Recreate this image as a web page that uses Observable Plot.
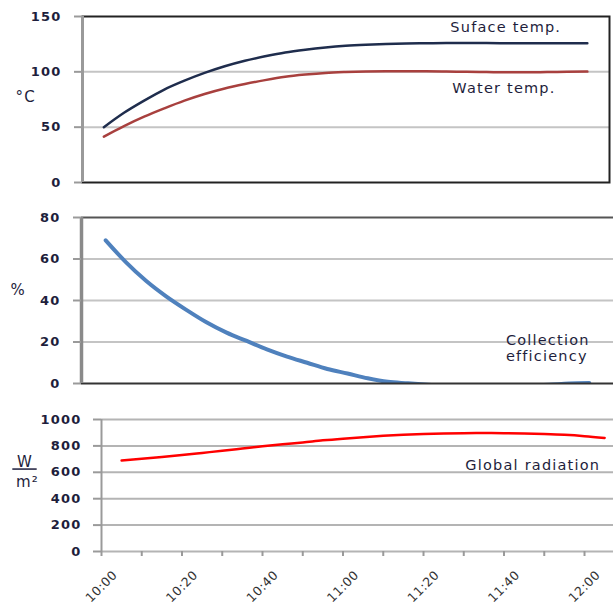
<!DOCTYPE html>
<html><head><meta charset="utf-8">
<script src="https://cdn.jsdelivr.net/npm/d3@7"></script>
<script src="https://cdn.jsdelivr.net/npm/@observablehq/plot@0.6"></script>
<style>
html,body{margin:0;padding:0;background:#fff;overflow:hidden}
#chart svg{display:block;background:#fff}
#chart svg text{letter-spacing:1.2px}
</style></head><body><div id="chart"></div>
<script>
// minutes after 10:00
const minutes      = [5,10,15,20,25,30,35,40,45,50,55,60,65,70,75,80,85,90,95,100,105,110,115,120,125];
const surfaceTemp  = [50,63,74,84,92,99,105,110,114,117.5,120,122,123.5,124.5,125.2,125.6,125.8,126,126,126,125.9,125.8,125.8,125.8,125.8];
const waterTemp    = [41.5,51,59.5,67,74,80,85,89,92.5,95.5,97.5,99,99.8,100.3,100.5,100.5,100.5,100.3,100,99.8,99.6,99.6,99.8,100,100.2];
const efficiency   = [69,58.5,49.5,42,35.5,29.5,24.5,20.5,16.5,13,10,7,4.8,2.5,0.8,0.1,-0.6,-1.2,-1.5,-1.5,-1.3,-1,-0.6,0,0.2];
const radiation    = [689,702,716,731,747,763,780,797,812,826,842,855,866,876,884,890,894,896,897,896,894,890,884,874,860];

const tempTicks = [0,50,100,150];
const effTicks  = [0,20,40,60,80];
const radTicks  = [0,200,400,600,800,1000];
const timeTicks = [0,10,20,30,40,50,60,70,80,90,100,110,120];
const timeLabelMinutes = [0,20,40,60,80,100,120];
const timeLabels = ["10:00","10:20","10:40","11:00","11:20","11:40","12:00"];

const seriesNames = ["Suface temp.","Water temp.","Collection\nefficiency","Global radiation"];
const unitLabels = ["°C", "%", "\u00a0W\u00a0", "m²"];

const FONT = "DejaVu Sans";
const INK = "#1e1e3c";
const baseStyle = {fontFamily: FONT, fontSize: "13px", color: INK, background: "#fff"};
const tickTextOpts = {fill: INK, fontWeight: "bold", fontSize: 13, label: null, tickFormat: d => String(d)};
const annot = {fill: INK, fontSize: 14.5, textAnchor: "start", lineAnchor: "middle"};
const unitOpts = {frameAnchor: "top-left", text: d => d, fill: INK, fontSize: 15, lineAnchor: "middle"};

const chart = document.getElementById("chart");

// ---- Panel 1: temperatures
const tempX = [-0.3, 130.5];
const tempData = minutes.flatMap((t, i) => [
  {t, v: surfaceTemp[i], s: "surface"},
  {t, v: waterTemp[i], s: "water"}
]);
chart.append(Plot.plot({
  width: 613, height: 200,
  marginTop: 16, marginBottom: 18, marginLeft: 82, marginRight: 4,
  style: baseStyle,
  x: {domain: tempX, axis: null},
  y: {domain: [0, 150]},
  marks: [
    Plot.ruleY(tempTicks.slice(1, -1), {stroke: "#c4c4c4", strokeWidth: 2}),
    Plot.frame({stroke: "#222", strokeWidth: 2}),
    Plot.ruleX([tempX[0]], {stroke: "#9a9a9a", strokeWidth: 3}),
    Plot.axisY(tempTicks, {...tickTextOpts, tickSize: 8, tickPadding: 13, stroke: "#9a9a9a", strokeWidth: 2}),
    Plot.line(tempData.filter(d => d.s === "water"), {x: "t", y: "v", stroke: "#a8403e", strokeWidth: 2.5, curve: "monotone-x"}),
    Plot.line(tempData.filter(d => d.s === "surface"), {x: "t", y: "v", stroke: "#1f2d4d", strokeWidth: 2.5, curve: "monotone-x"}),
    Plot.text([seriesNames[0]], {x: 91, y: 140, text: d => d, ...annot}),
    Plot.text([seriesNames[1]], {x: 91.5, y: 85, text: d => d, ...annot}),
    Plot.text([unitLabels[0]], {...unitOpts, dx: -67, dy: 81, textAnchor: "start"})
  ]
}));

// ---- Panel 2: collection efficiency
const effX = [-1, 131];
const effData = minutes.map((t, i) => ({t, v: efficiency[i]}));
chart.append(Plot.plot({
  width: 613, height: 200,
  marginTop: 17, marginBottom: 17, marginLeft: 81, marginRight: 0,
  style: baseStyle,
  x: {domain: effX, axis: null},
  y: {domain: [0, 80]},
  marks: [
    Plot.ruleY(effTicks.slice(1, -1), {stroke: "#c4c4c4", strokeWidth: 2}),
    Plot.line(effData, {x: "t", y: "v", stroke: "#4f81bd", strokeWidth: 4, curve: "monotone-x", clip: true}),
    Plot.ruleY([effTicks[effTicks.length - 1]], {stroke: "#555", strokeWidth: 2}),
    Plot.ruleY([0], {stroke: "#333", strokeWidth: 2}),
    Plot.ruleX([effX[0]], {stroke: "#8a8a8a", strokeWidth: 3.5}),
    Plot.axisY(effTicks, {...tickTextOpts, tickSize: 8, tickPadding: 13, stroke: "#9a9a9a", strokeWidth: 2}),
    Plot.text([seriesNames[2]], {x: 104.3, y: 17.1, text: d => d, ...annot, lineHeight: 1.05}),
    Plot.text([unitLabels[1]], {...unitOpts, dx: -71, dy: 73, textAnchor: "start"})
  ]
}));

// ---- Panel 3: global radiation
const radX = [0, 127.2];
const radData = minutes.map((t, i) => ({t, v: radiation[i]}));
const labelData = timeLabelMinutes.map((m, i) => ({m, label: timeLabels[i]}));
const p3 = Plot.plot({
  width: 613, height: 206,
  marginTop: 19, marginBottom: 55, marginLeft: 101, marginRight: 0,
  style: baseStyle,
  x: {domain: radX},
  y: {domain: [0, 1000]},
  marks: [
    Plot.ruleY(radTicks, {stroke: "#b4b4b4", strokeWidth: 2}),
    Plot.ruleX([radX[0]], {stroke: "#9a9a9a", strokeWidth: 2}),
    Plot.axisY(radTicks, {...tickTextOpts, tickSize: 8, tickPadding: 12, stroke: "#9a9a9a", strokeWidth: 2}),
    Plot.axisX(timeTicks, {tickSize: 5, tickFormat: () => "", stroke: "#9a9a9a", strokeWidth: 2, label: null}),
    Plot.text(labelData, {x: "m", text: "label", frameAnchor: "bottom", dy: 35, rotate: -45, textAnchor: "middle", lineAnchor: "middle", fill: "#333", fontSize: 12.5}),
    Plot.line(radData, {x: "t", y: "v", stroke: "#ff0000", strokeWidth: 2.5, curve: "monotone-x"}),
    Plot.text([seriesNames[3]], {x: 90.4, y: 651, text: d => d, ...annot}),
    Plot.text([unitLabels[2]], {...unitOpts, dx: -77, dy: 43, textAnchor: "middle"}),
    Plot.text([unitLabels[3]], {...unitOpts, dx: -74, dy: 62.5, textAnchor: "middle"})
  ]
});
chart.append(p3);
d3.select(p3).selectAll("text")
  .filter(function() { return this.textContent === unitLabels[2]; })
  .style("letter-spacing", "0px")
  .style("text-decoration", "underline")
  .style("text-decoration-thickness", "1.5px")
  .style("text-underline-offset", "3px");
d3.select(p3).selectAll("text")
  .filter(function() { return /^\d\d:\d\d$/.test(this.textContent); })
  .style("letter-spacing", "0.5px");
</script></body></html>
